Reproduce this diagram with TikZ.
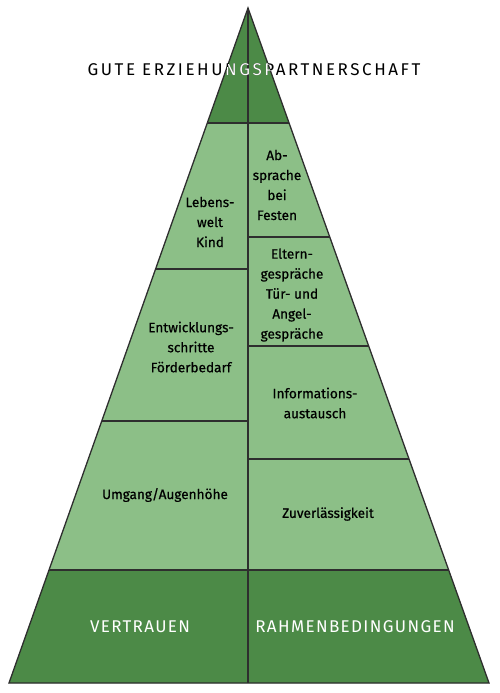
\documentclass[tikz,border=0pt]{standalone}
\usepackage{fontspec}
\setmainfont{Fira Sans}
\usetikzlibrary{calc}
\definecolor{darkgr}{HTML}{4C8A47}
\definecolor{lightgr}{HTML}{8CBF87}
\definecolor{edge}{HTML}{2E2E2E}
\tikzset{
  lbl/.style={align=center,font=\fontsize{13.6}{20}\selectfont\addfontfeature{FakeBold=0.6},text=black,inner sep=0pt},
  titletext/.style={font=\fontsize{17}{20}\selectfont\addfontfeature{LetterSpace=15},inner sep=0pt},
  captext/.style={font=\fontsize{17}{20}\selectfont\addfontfeature{LetterSpace=8},inner sep=0pt},
  sep/.style={draw=edge,line width=1.3pt},
}
\begin{document}
\begin{tikzpicture}[x=1pt,y=1pt]
\useasboundingbox (0,0) rectangle (500,-693);
\coordinate (A) at (248,-8);
\coordinate (BL) at (9,-683);
\coordinate (BR) at (489,-683);
\coordinate (BC) at (248,-683);
% edge points
\coordinate (L1) at ($(A)!0.1704!(BL)$);
\coordinate (R1) at ($(A)!0.1704!(BR)$);
\coordinate (R2) at ($(A)!0.3393!(BR)$);
\coordinate (L3) at ($(A)!0.3867!(BL)$);
\coordinate (R4) at ($(A)!0.5007!(BR)$);
\coordinate (L5) at ($(A)!0.6119!(BL)$);
\coordinate (R6) at ($(A)!0.6681!(BR)$);
\coordinate (L7) at ($(A)!0.8326!(BL)$);
\coordinate (R7) at ($(A)!0.8326!(BR)$);
% fills
\fill[lightgr] (A) -- (BR) -- (BL) -- cycle;
\fill[darkgr] (A) -- (R1) -- (L1) -- cycle;
\fill[darkgr] (L7) -- (R7) -- (BR) -- (BL) -- cycle;
% separators
\draw[sep] (L1) -- (R1);
\draw[sep] (L7) -- (R7);
\draw[sep] (L3) -- (L3 -| A);
\draw[sep] (L5) -- (L5 -| A);
\draw[sep] (R2) -- (R2 -| A);
\draw[sep] (R4) -- (R4 -| A);
\draw[sep] (R6) -- (R6 -| A);
\draw[sep] (A) -- (BC);
\draw[sep,line join=miter] (A) -- (BR) -- (BL) -- cycle;
% title
\node[titletext,text=black] (title) at (254,-70) {GUTE ERZIEHUNGSPARTNERSCHAFT};
\begin{scope}
\clip (A) -- (BR) -- (BL) -- cycle;
\node[titletext,text=white] (titlew) at (254,-70) {GUTE ERZIEHUNGSPARTNERSCHAFT};
\end{scope}
% labels
\node[lbl] (leb) at (210,-222) {Lebens-\\welt\\Kind};
\node[lbl] (abs) at (277,-185) {Ab-\\sprache\\bei\\Festen};
\node[lbl] (elt) at (292,-295) {Eltern-\\gespräche\\Tür- und\\Angel-\\gespräche};
\node[lbl] (ent) at (191,-347) {Entwicklungs-\\schritte\\Förderbedarf};
\node[lbl] (inf) at (315,-403) {Informations-\\austausch};
\node[lbl] (umg) at (165,-495) {Umgang/Augenhöhe};
\node[lbl] (zuv) at (328,-514) {Zuverlässigkeit};
\node[captext,text=white] (ver) at (140,-627) {VERTRAUEN};
\node[captext,text=white] (rah) at (355,-627) {RAHMENBEDINGUNGEN};
\end{tikzpicture}
\end{document}
